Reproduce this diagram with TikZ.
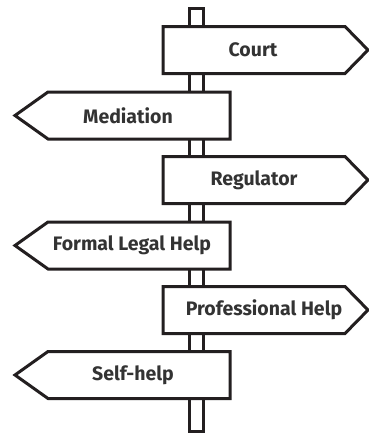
\documentclass[tikz,border=0pt]{standalone}
\usepackage{fontspec}
\setmainfont{Fira Sans}
\begin{document}
\begin{tikzpicture}[x=1pt,y=-1pt]
      % Color definitions
      \definecolor{postcolor}{RGB}{35, 31, 32}
      \definecolor{labelcolor}{RGB}{51, 51, 51}

      % Sign parameters
      \def\halfh{23.5}
      \def\signfont{\fontsize{19.5}{21}\selectfont\bfseries}

      \useasboundingbox (0,0) rectangle (369,434);

      % Draw post
      \draw[postcolor, line width=3pt, fill=white] (189,8) rectangle (203,431);

      % Signs pointing right
      \foreach \y/\tx/\name/\label in {
          50/253/court/Court,
          180/254/regulator/Regulator,
          310/264/profhelp/Professional Help
      } {
          \draw[postcolor, line width=3pt, fill=white]
              (163,\y-\halfh) -- (345,\y-\halfh) -- (368,\y) --
              (345,\y+\halfh) -- (163,\y+\halfh) -- cycle;
          \node[font=\signfont, text=labelcolor] (\name) at (\tx,\y) {\label};
      }

      % Signs pointing left
      \foreach \y/\tx/\name/\label in {
          115.5/128/mediation/Mediation,
          245.5/132/formal/Formal Legal Help,
          375/133/selfhelp/Self-help
      } {
          \draw[postcolor, line width=3pt, fill=white]
              (230,\y-\halfh) -- (48,\y-\halfh) -- (15,\y) --
              (48,\y+\halfh) -- (230,\y+\halfh) -- cycle;
          \node[font=\signfont, text=labelcolor] (\name) at (\tx,\y) {\label};
      }

  \end{tikzpicture}
\end{document}
